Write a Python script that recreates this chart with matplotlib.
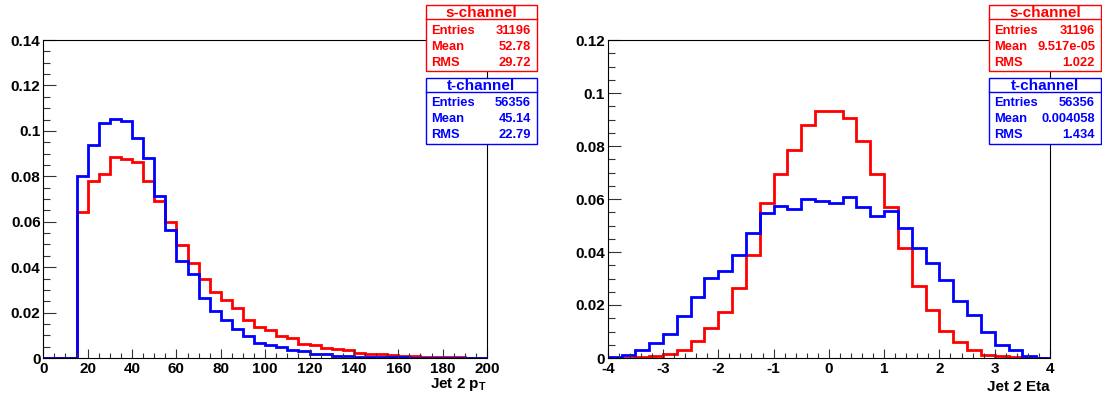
import numpy as np
import matplotlib.pyplot as plt
from matplotlib.patches import Rectangle
from matplotlib.lines import Line2D
from matplotlib.ticker import MultipleLocator, FuncFormatter

plt.rcParams['font.family'] = ['Liberation Sans', 'DejaVu Sans']
plt.rcParams['font.weight'] = 'bold'
plt.rcParams['mathtext.fontset'] = 'custom'
plt.rcParams['mathtext.bf'] = 'Liberation Sans:bold'
plt.rcParams['mathtext.rm'] = 'Liberation Sans:bold'

# Jet 2 pT, bins of 5 from 0 to 200
pt_edges = np.arange(0, 205, 5)
pt_t = [0, 0, 0, 0.0800, 0.0937, 0.1035, 0.1054, 0.1045, 0.0969, 0.0881,
        0.0715, 0.0562, 0.0429, 0.0370, 0.0263, 0.0206, 0.0167, 0.0128, 0.0095, 0.0068,
        0.0056, 0.0048, 0.0034, 0.0031, 0.0019, 0.0016, 0.0009, 0.0007, 0.0006, 0.0004,
        0.0004, 0.0003, 0.0003, 0.0002, 0.0002, 0.0002, 0.0001, 0.0001, 0.0001, 0.0001]
pt_s = [0, 0, 0, 0.0642, 0.0781, 0.0808, 0.0885, 0.0874, 0.0865, 0.0778,
        0.0693, 0.0599, 0.0496, 0.0420, 0.0349, 0.0292, 0.0257, 0.0220, 0.0166, 0.0135,
        0.0122, 0.0095, 0.0088, 0.0063, 0.0056, 0.0044, 0.0041, 0.0034, 0.0023, 0.0019,
        0.0016, 0.0013, 0.0010, 0.0007, 0.0006, 0.0005, 0.0003, 0.0003, 0.0002, 0.0002]

# Jet 2 Eta, bins of 0.25 from -4 to 4
eta_edges = np.linspace(-4, 4, 33)
eta_t = [0.0003, 0.0010, 0.0032, 0.0057, 0.0092, 0.0160, 0.0230, 0.0301, 0.0329, 0.0388,
         0.0472, 0.0547, 0.0574, 0.0564, 0.0600, 0.0594, 0.0586, 0.0609, 0.0571, 0.0537,
         0.0556, 0.0492, 0.0416, 0.0357, 0.0293, 0.0214, 0.0164, 0.0098, 0.0050, 0.0029,
         0.0009, 0.0001]
eta_s = [0.0000, 0.0001, 0.0004, 0.0008, 0.0016, 0.0029, 0.0064, 0.0113, 0.0174, 0.0265,
         0.0388, 0.0584, 0.0696, 0.0786, 0.0880, 0.0933, 0.0933, 0.0905, 0.0817, 0.0695,
         0.0570, 0.0416, 0.0271, 0.0183, 0.0102, 0.0061, 0.0032, 0.0013, 0.0006, 0.0004,
         0.0001, 0.0000]

stats_pt = {'s': ('31196', '52.78', '29.72'), 't': ('56356', '45.14', '22.79')}
stats_eta = {'s': ('31196', '9.517e-05', '1.022'), 't': ('56356', '0.004058', '1.434')}

W, H = 1102, 396
fig = plt.figure(figsize=(W / 100, H / 100), dpi=100)
fig.patch.set_facecolor('white')


def px_axes(x0, x1, ytop, ybot):
    return fig.add_axes([x0 / W, 1 - ybot / H, (x1 - x0) / W, (ybot - ytop) / H])


def fmt(v, pos):
    return '%g' % round(v, 6)


def style(ax, xmaj, xmin, ymaj, ymin):
    ax.xaxis.set_major_locator(MultipleLocator(xmaj))
    ax.xaxis.set_minor_locator(MultipleLocator(xmin))
    ax.yaxis.set_major_locator(MultipleLocator(ymaj))
    ax.yaxis.set_minor_locator(MultipleLocator(ymin))
    ax.xaxis.set_major_formatter(FuncFormatter(fmt))
    ax.yaxis.set_major_formatter(FuncFormatter(fmt))
    ax.tick_params(axis='both', which='both', direction='in', top=False, right=False,
                   labelsize=11, width=0.8, color='#333333')
    ax.tick_params(axis='y', which='major', length=9.4, pad=2)
    ax.tick_params(axis='y', which='minor', length=4.8)
    ax.tick_params(axis='x', which='major', length=6.5, pad=3)
    ax.tick_params(axis='x', which='minor', length=3.6)
    for lab in ax.get_xticklabels() + ax.get_yticklabels():
        lab.set_fontweight('bold')
    for sp in ax.spines.values():
        sp.set_linewidth(0.8)


def stat_box(x0, x1, ytop, title, vals, color):
    h, th = 66, 14
    fig.add_artist(Rectangle((x0 / W, 1 - (ytop + h) / H), (x1 - x0) / W, h / H,
                             transform=fig.transFigure, facecolor='white',
                             edgecolor=color, lw=1.0, zorder=5))
    fig.add_artist(Line2D([x0 / W, x1 / W], [1 - (ytop + th) / H] * 2,
                          transform=fig.transFigure, color=color, lw=1.0, zorder=6))
    fig.text((x0 + x1) / 2 / W, 1 - (ytop + 8) / H, title, color=color,
             ha='center', va='center', fontsize=11, fontweight='bold', zorder=7)
    names = ['Entries', 'Mean', 'RMS']
    for i, (n, v) in enumerate(zip(names, vals)):
        yy = 1 - (ytop + 25.5 + i * 16) / H
        fig.text((x0 + 5) / W, yy, n, color=color, ha='left', va='center',
                 fontsize=9.3, fontweight='bold', zorder=7)
        fig.text((x1 - 6) / W, yy, v, color=color, ha='right', va='center',
                 fontsize=9.3, fontweight='bold', zorder=7)


# left: Jet 2 pT
ax1 = px_axes(43.3, 487, 40, 358)
ax1.stairs(pt_s, pt_edges, color='red', lw=2)
ax1.stairs(pt_t, pt_edges, color='blue', lw=2)
ax1.set_xlim(0, 200)
ax1.set_ylim(0, 0.14)
style(ax1, 20, 5, 0.02, 0.005)
ax1.text(1.0, -0.058, r'Jet 2 p$_{\mathbf{T}}$', transform=ax1.transAxes,
         ha='right', va='top', fontsize=11, fontweight='bold')

# right: Jet 2 Eta
ax2 = px_axes(607.7, 1050, 40, 358)
ax2.stairs(eta_s, eta_edges, color='red', lw=2)
ax2.stairs(eta_t, eta_edges, color='blue', lw=2)
ax2.set_xlim(-4, 4)
ax2.set_ylim(0, 0.12)
style(ax2, 1, 0.2, 0.02, 0.005)
ax2.text(1.0, -0.07, 'Jet 2 Eta', transform=ax2.transAxes,
         ha='right', va='top', fontsize=11, fontweight='bold')

stat_box(425.7, 536.7, 5, 's-channel', stats_pt['s'], 'red')
stat_box(425.7, 536.7, 78, 't-channel', stats_pt['t'], 'blue')
stat_box(989, 1101, 5, 's-channel', stats_eta['s'], 'red')
stat_box(989, 1101, 78, 't-channel', stats_eta['t'], 'blue')

fig.savefig('out.png', dpi=100)
